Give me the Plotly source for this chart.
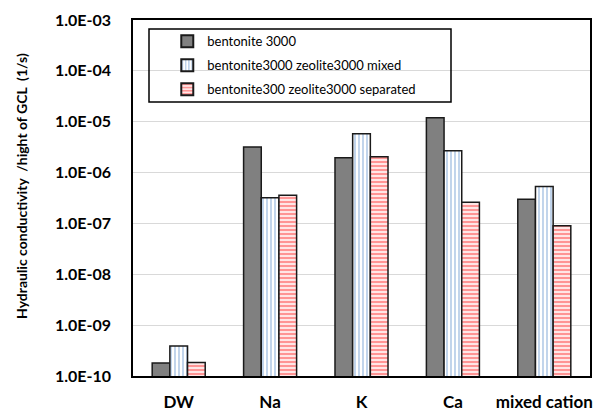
import plotly.graph_objects as go

categories = ["DW", "Na", "K", "Ca", "mixed cation"]
bentonite_3000 = [1.8e-10, 3.2e-6, 1.95e-6, 1.2e-5, 3.0e-7]
mixed = [3.9e-10, 3.2e-7, 5.8e-6, 2.7e-6, 5.3e-7]
separated = [1.85e-10, 3.6e-7, 2.05e-6, 2.6e-7, 9.0e-8]
series_names = ["bentonite 3000", "bentonite3000 zeolite3000 mixed", "bentonite300 zeolite3000 separated"]
tick_vals = [1e-10, 1e-9, 1e-8, 1e-7, 1e-6, 1e-5, 1e-4, 1e-3]
tick_text = ["1.0E-10", "1.0E-09", "1.0E-08", "1.0E-07", "1.0E-06", "1.0E-05", "1.0E-04", "1.0E-03"]
y_title = "Hydraulic conductivity  /hight of GCL  (1/s)"

FONT = "Lato"
L, R, T, B = 133, 18, 20, 36
PW, PH = 608 - L - R, 412 - T - B

fig = go.Figure()
fig.add_trace(go.Bar(x=categories, y=bentonite_3000, name=series_names[0], legendgroup="a",
                     marker=dict(color="#808080", line=dict(color="#1a1a1a", width=1.5))))
fig.add_trace(go.Bar(x=categories, y=mixed, name=series_names[1], legendgroup="b",
                     marker=dict(color="white", line=dict(color="#1a1a1a", width=1.5),
                                 pattern=dict(shape="|", fgcolor="#4f86c8", bgcolor="white",
                                              size=4, solidity=0.35))))
fig.add_trace(go.Bar(x=categories, y=separated, name=series_names[2], legendgroup="c",
                     marker=dict(color="white", line=dict(color="#1a1a1a", width=1.5),
                                 pattern=dict(shape="-", fgcolor="#ff1a1a", bgcolor="#ffe6e6",
                                              size=4, solidity=0.4))))

fig.update_layout(
    width=608, height=412,
    margin=dict(l=L, r=R, t=T, b=B, autoexpand=False),
    paper_bgcolor="white", plot_bgcolor="white",
    barmode="group", bargap=0.42, bargroupgap=0,
    font=dict(family=FONT, color="black"),
    showlegend=True,
    legend=dict(x=0.075, y=0.982, xanchor="left", yanchor="top",
                bgcolor="rgba(0,0,0,0)", borderwidth=0,
                font=dict(family=FONT, size=13, color="black"),
                traceorder="grouped", tracegroupgap=4, itemsizing="constant"),
    shapes=[dict(type="rect", xref="paper", yref="paper",
                 x0=(149 - L) / PW, x1=(451 - L) / PW,
                 y0=(412 - B - 102) / PH, y1=(412 - B - 29) / PH,
                 line=dict(color="black", width=1.5), fillcolor="rgba(0,0,0,0)")],
    annotations=[dict(text=y_title, xref="paper", yref="paper",
                      x=(21 - L) / PW, y=(412 - B - 186) / PH,
                      xanchor="center", yanchor="middle", textangle=-90, showarrow=False,
                      font=dict(family=FONT, size=14, color="black", weight="bold"))],
    xaxis=dict(showline=True, linecolor="black", linewidth=1.5, mirror=True, automargin=False,
               ticks="outside", ticklen=10, tickcolor="rgba(0,0,0,0)",
               tickfont=dict(family=FONT, size=17, color="black", weight="bold")),
    yaxis=dict(type="log", range=[-10, -3], showline=True, linecolor="black", linewidth=1.5,
               mirror=True, showgrid=True, gridcolor="#d9d9d9", gridwidth=1, automargin=False,
               tickvals=tick_vals, ticktext=tick_text,
               ticks="outside", ticklen=17, tickcolor="rgba(0,0,0,0)",
               tickfont=dict(family=FONT, size=16, color="black", weight="bold")),
)

fig.write_html("out.html", config={"displayModeBar": False},
               post_script="document.body.style.margin='0';document.body.style.overflow='hidden';")
